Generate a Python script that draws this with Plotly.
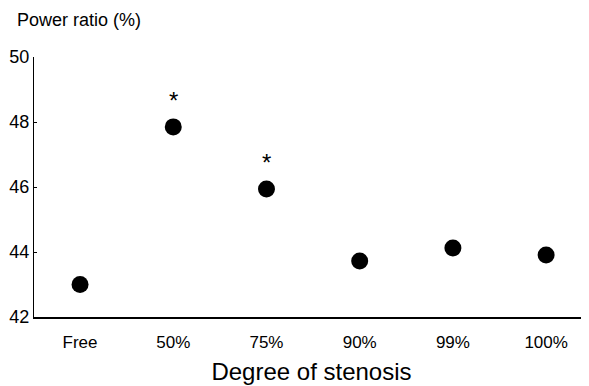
import plotly.graph_objects as go

categories = ["Free", "50%", "75%", "90%", "99%", "100%"]
power_ratio = [43.0, 47.85, 45.94, 43.72, 44.12, 43.91]
significant = [False, True, True, False, False, False]
y_ticks = [42, 44, 46, 48, 50]

xs = list(range(len(categories)))

fig = go.Figure()
fig.add_trace(go.Scatter(
    x=xs, y=power_ratio, mode="markers",
    marker=dict(size=17, color="black"),
    showlegend=False,
))
for x, y, s in zip(xs, power_ratio, significant):
    if s:
        fig.add_annotation(x=x, y=y, text="*", showarrow=False, yshift=26,
                           font=dict(size=24, color="black", family="Liberation Sans, Arial"))

# page body has an 8px margin, so figure is 8px smaller and margins 8px tighter
fig.add_annotation(xref="paper", yref="paper", x=-0.034, y=1.142, xanchor="left", yanchor="middle",
                   text="Power ratio (%)", showarrow=False,
                   font=dict(size=18, color="black", family="Liberation Sans, Arial"))

fig.update_layout(
    width=581, height=378,
    margin=dict(l=26, r=0, t=49, b=69),
    paper_bgcolor="white", plot_bgcolor="white",
    font=dict(family="Liberation Sans, Arial", color="black", size=16),
    xaxis=dict(
        range=[-0.494, 5.46], tickvals=xs, ticktext=categories, automargin=False,
        showline=True, linecolor="black", linewidth=1.5, showgrid=False, zeroline=False,
        ticks="", tickfont=dict(size=17), ticklabelstandoff=9,
        title=dict(text="Degree of stenosis", font=dict(size=24), standoff=12),
    ),
    yaxis=dict(
        range=[42, 50], tickvals=y_ticks, automargin=False,
        showline=True, linecolor="black", linewidth=1, showgrid=False, zeroline=False,
        ticks="inside", ticklen=3, tickcolor="black", tickfont=dict(size=18),
    ),
)
fig.write_html("out.html")
